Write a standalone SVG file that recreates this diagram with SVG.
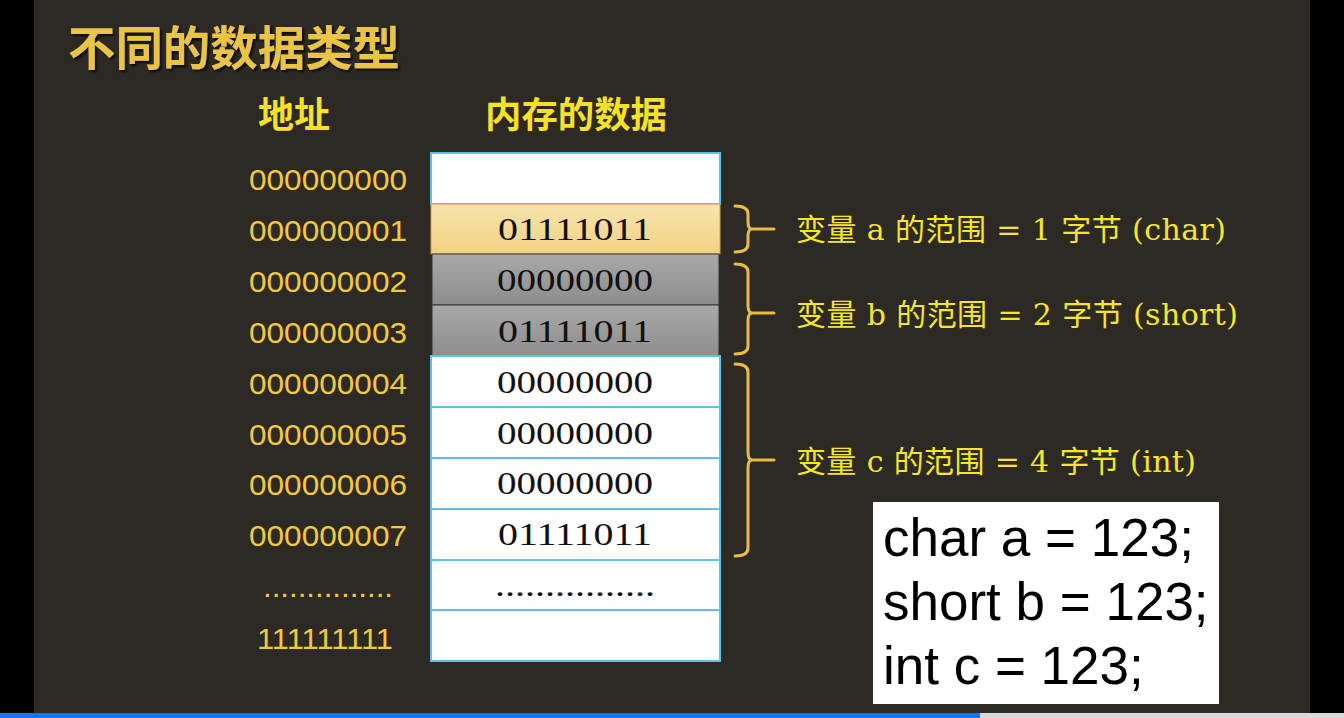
<svg xmlns="http://www.w3.org/2000/svg" width="1344" height="718" viewBox="0 0 1344 718">
<style>
.addr{font-family:"Liberation Sans",Arial,sans-serif;font-size:30px;fill:#f2c93c;text-anchor:middle}
.mem{font-family:"Liberation Serif","DejaVu Serif",serif;font-size:32px;fill:#111;text-anchor:middle}
.cell{stroke:#5bc3ea;stroke-width:2}
.lbl{font-family:"DejaVu Serif","Noto Sans CJK SC",serif;font-size:30px;fill:#f5e62a}
.hdr{font-family:"Noto Sans CJK SC",sans-serif;font-size:36px;font-weight:700;fill:#f5e02a}
.brace{fill:none;stroke:#e8bb44;stroke-width:3;stroke-linejoin:round;stroke-linecap:round}
.code{font-family:"Liberation Sans",Arial,sans-serif;font-size:53px;fill:#000}
</style>
<defs>
<linearGradient id="gY" x1="0" y1="0" x2="0" y2="1"><stop offset="0" stop-color="#f8e4ad"/><stop offset="1" stop-color="#f1d182"/></linearGradient>
<linearGradient id="gG" x1="0" y1="0" x2="0" y2="1"><stop offset="0" stop-color="#a9a9a9"/><stop offset="1" stop-color="#8d8d8d"/></linearGradient>
<filter id="sh" x="-5%" y="-20%" width="110%" height="140%"><feDropShadow dx="2" dy="2" stdDeviation="1" flood-color="#000" flood-opacity="0.8"/></filter>
</defs>
<rect x="0" y="0" width="1344" height="718" fill="#000"/>
<rect x="34" y="0" width="1276" height="713" fill="#2d2924"/>
<rect x="0" y="713" width="980" height="5" fill="#1a73e8"/>
<rect x="980" y="713" width="364" height="5" fill="#d9d9d9"/>

<g id="title"><text x="68" y="65" font-family="'Noto Sans CJK SC',sans-serif" font-size="47" font-weight="700" fill="#e9c446" filter="url(#sh)" textLength="332" lengthAdjust="spacingAndGlyphs">不同的数据类型</text></g>
<g id="headers">
<text class="hdr" x="258" y="128">地址</text>
<text class="hdr" x="485" y="128" textLength="182" lengthAdjust="spacingAndGlyphs">内存的数据</text>
</g>

<g id="addresses">
<text class="addr" x="328" y="190" textLength="158" lengthAdjust="spacingAndGlyphs">000000000</text>
<text class="addr" x="328" y="241" textLength="158" lengthAdjust="spacingAndGlyphs">000000001</text>
<text class="addr" x="328" y="292" textLength="158" lengthAdjust="spacingAndGlyphs">000000002</text>
<text class="addr" x="328" y="343" textLength="158" lengthAdjust="spacingAndGlyphs">000000003</text>
<text class="addr" x="328" y="394" textLength="158" lengthAdjust="spacingAndGlyphs">000000004</text>
<text class="addr" x="328" y="445" textLength="158" lengthAdjust="spacingAndGlyphs">000000005</text>
<text class="addr" x="328" y="495" textLength="158" lengthAdjust="spacingAndGlyphs">000000006</text>
<text class="addr" x="328" y="546" textLength="158" lengthAdjust="spacingAndGlyphs">000000007</text>
<text class="addr" x="328" y="597" textLength="130" lengthAdjust="spacingAndGlyphs">...............</text>
<text class="addr" x="325" y="649" textLength="136" lengthAdjust="spacingAndGlyphs">111111111</text>
</g>

<g id="memory">
<rect class="cell" x="431" y="153" width="289" height="51" fill="#fff"/>
<rect x="431" y="204" width="289" height="50" fill="url(#gY)" stroke="#c9a550" stroke-width="1"/>
<rect x="432" y="254" width="287" height="51" fill="url(#gG)" stroke="#333" stroke-width="1"/>
<rect x="432" y="305" width="287" height="51" fill="url(#gG)" stroke="#333" stroke-width="1"/>
<rect class="cell" x="431" y="356" width="289" height="51" fill="#fff"/>
<rect class="cell" x="431" y="407" width="289" height="51" fill="#fff"/>
<rect class="cell" x="431" y="458" width="289" height="51" fill="#fff"/>
<rect class="cell" x="431" y="509" width="289" height="51" fill="#fff"/>
<rect class="cell" x="431" y="560" width="289" height="50" fill="#fff"/>
<rect class="cell" x="431" y="610" width="289" height="51" fill="#fff"/>
<text class="mem" x="575" y="240" textLength="154" lengthAdjust="spacingAndGlyphs">01111011</text>
<text class="mem" x="575" y="291" textLength="156" lengthAdjust="spacingAndGlyphs">00000000</text>
<text class="mem" x="575" y="342" textLength="154" lengthAdjust="spacingAndGlyphs">01111011</text>
<text class="mem" x="575" y="393" textLength="156" lengthAdjust="spacingAndGlyphs">00000000</text>
<text class="mem" x="575" y="444" textLength="156" lengthAdjust="spacingAndGlyphs">00000000</text>
<text class="mem" x="575" y="494" textLength="156" lengthAdjust="spacingAndGlyphs">00000000</text>
<text class="mem" x="575" y="545" textLength="154" lengthAdjust="spacingAndGlyphs">01111011</text>
<text class="mem" x="575" y="596" textLength="160" lengthAdjust="spacingAndGlyphs">................</text>
</g>

<g id="connectors">
<path class="brace" d="M735,206 Q748,206 748,214 L748,222 Q748,229 752,229 Q748,229 748,236 L748,244 Q748,252 735,252 M752,229 L774,229"/>
<path class="brace" d="M735,264 Q748,264 748,272 L748,305 Q748,313 752,313 Q748,313 748,321 L748,346 Q748,354 735,354 M752,313 L774,313"/>
<path class="brace" d="M735,364 Q748,364 748,372 L748,452 Q748,460 752,460 Q748,460 748,468 L748,548 Q748,556 735,556 M752,460 L774,460"/>
</g>

<g id="labels">
<text class="lbl" x="796" y="240" textLength="430" lengthAdjust="spacing">变量 a 的范围 = 1 字节 (char)</text>
<text class="lbl" x="796" y="325" textLength="442" lengthAdjust="spacing">变量 b 的范围 = 2 字节 (short)</text>
<text class="lbl" x="796" y="472" textLength="400" lengthAdjust="spacing">变量 c 的范围 = 4 字节 (int)</text>
</g>

<g id="code">
<rect x="873" y="502" width="346" height="202" fill="#fff"/>
<text class="code" x="883" y="556">char a = 123;</text>
<text class="code" x="883" y="620">short b = 123;</text>
<text class="code" x="883" y="684">int c = 123;</text>
</g>
</svg>
